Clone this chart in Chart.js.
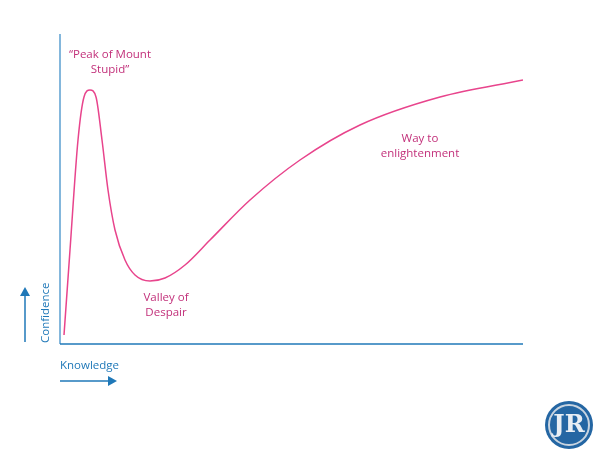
<!DOCTYPE html><html><head><script src="https://cdn.jsdelivr.net/npm/chart.js@4"></script>
<style>body{margin:0;background:#fff}#w{width:600px;height:460px}</style></head><body><div id="w"><canvas id="c"></canvas></div><script>
const knowledge=[4,10,18,24,30,36,42,48,55,65,75,90,105,125,150,190,240,300,380,463];
const confidence=[9,94,204,247,254,247,204,154,114,84,69,63,66,79,104,144,184,219,247,264];
const labels=[{t:["“Peak of Mount","Stupid”"],x:50,y:289},{t:["Valley of","Despair"],x:106,y:46},{t:["Way to","enlightenment"],x:360,y:205}];
const pts=knowledge.map((k,i)=>({x:k,y:confidence[i]}));
const deco={id:'deco',afterDraw(ch){const c=ch.ctx,a=ch.chartArea,sx=ch.scales.x,sy=ch.scales.y;c.save();
c.strokeStyle='#5b9fd0';c.lineWidth=1.5;c.beginPath();c.moveTo(a.left,a.top);c.lineTo(a.left,a.bottom);c.stroke();
c.strokeStyle='#1f78b8';c.beginPath();c.moveTo(a.left,a.bottom);c.lineTo(a.right,a.bottom);c.stroke();
c.fillStyle='#c2307a';c.font='11.5px "Open Sans"';c.textAlign='center';c.textBaseline='middle';
labels.forEach(l=>l.t.forEach((s,i)=>c.fillText(s,sx.getPixelForValue(l.x),sy.getPixelForValue(l.y)+i*15)));
c.fillStyle='#1f78b8';c.strokeStyle='#1f78b8';c.lineWidth=1.5;c.font='11.5px "Open Sans"';
c.textAlign='left';c.fillText('Knowledge',60,366);
c.beginPath();c.moveTo(60,381);c.lineTo(110,381);c.stroke();c.beginPath();c.moveTo(117,381);c.lineTo(108,376);c.lineTo(108,386);c.fill();
c.beginPath();c.moveTo(25,342);c.lineTo(25,295);c.stroke();c.beginPath();c.moveTo(25,287);c.lineTo(20,296);c.lineTo(30,296);c.fill();
c.save();c.translate(46,343);c.rotate(-Math.PI/2);c.textAlign='left';c.fillText('Confidence',0,0);c.restore();
c.beginPath();c.arc(569,425,24,0,7);c.fillStyle='#2466a3';c.fill();c.beginPath();c.arc(569,425,20,0,7);c.strokeStyle='#c8d4e0';c.lineWidth=2;c.stroke();
c.fillStyle='#e8eef4';c.font='bold 24px "DejaVu Serif"';c.textAlign='center';c.fillText('JR',569,426);
c.restore();}};
new Chart(document.getElementById('c'),{type:'scatter',data:{datasets:[{data:pts,showLine:true,borderColor:'#e8448c',borderWidth:1.5,pointRadius:0,cubicInterpolationMode:'monotone'}]},
options:{responsive:true,maintainAspectRatio:false,animation:false,layout:{padding:{left:60,right:77,top:34,bottom:116}},
plugins:{legend:{display:false},tooltip:{enabled:false}},
scales:{x:{display:false,min:0,max:463},y:{display:false,min:0,max:310}}},plugins:[deco]});
</script></body></html>
